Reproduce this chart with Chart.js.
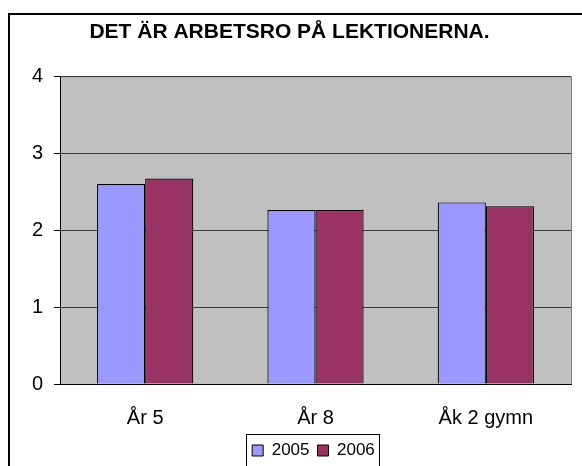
<!DOCTYPE html>
<html>
<head>
<meta charset="utf-8">
<script src="https://cdn.jsdelivr.net/npm/chart.js@4/dist/chart.umd.min.js"></script>
<style>
  body { margin: 0; background: #fff; }
  #wrap { width: 582px; height: 466px; position: relative; }
</style>
</head>
<body>
<div id="wrap"><canvas id="chart" width="582" height="466"></canvas></div>
<script>
  // data
  const categories = ['År 5', 'År 8', 'Åk 2 gymn'];
  const values2005 = [2.60, 2.26, 2.36];
  const values2006 = [2.67, 2.26, 2.31];
  const yTicks = [0, 1, 2, 3, 4];

  const FONT = 'Arial, "Liberation Sans", sans-serif';
  const LEGEND_SHIFT_X = 24;
  const LEGEND_SHIFT_Y = 3;

  // outer frame, grey plot area and the box round the legend
  const excelLook = {
    id: 'excelLook',
    afterLayout(chart) {
      // Excel put the legend a little right of centre
      const lg = chart.legend;
      lg.left += LEGEND_SHIFT_X;
      lg.right += LEGEND_SHIFT_X;
      lg.top += LEGEND_SHIFT_Y;
      lg.bottom += LEGEND_SHIFT_Y;
      (lg.legendHitBoxes || []).forEach(b => {
        b.left += LEGEND_SHIFT_X;
        b.top += LEGEND_SHIFT_Y;
      });
    },
    beforeDraw(chart) {
      const ctx = chart.ctx;
      const a = chart.chartArea;
      ctx.save();
      ctx.fillStyle = '#fff';
      ctx.fillRect(0, 0, chart.width, chart.height);
      ctx.fillStyle = '#c0c0c0';
      ctx.fillRect(a.left, a.top, a.right - a.left, a.bottom - a.top);
      ctx.strokeStyle = '#808080';
      ctx.lineWidth = 1;
      ctx.beginPath();
      ctx.moveTo(a.left, a.top + 0.5);
      ctx.lineTo(a.right + 0.5, a.top + 0.5);
      ctx.lineTo(a.right + 0.5, a.bottom);
      ctx.stroke();
      ctx.restore();
    },
    afterDraw(chart) {
      const ctx = chart.ctx;
      ctx.save();
      ctx.strokeStyle = '#000';
      ctx.lineWidth = 2;
      ctx.strokeRect(9, 14, chart.width + 10, chart.height + 10);
      const boxes = chart.legend.legendHitBoxes;
      if (boxes && boxes.length) {
        const left = boxes[0].left - 6;
        const right = boxes[boxes.length - 1].left + boxes[boxes.length - 1].width + 4;
        ctx.lineWidth = 1;
        ctx.strokeRect(Math.round(left) + 0.5, 434.5, Math.round(right - left), 40);
      }
      ctx.restore();
    }
  };

  const ctx = document.getElementById('chart').getContext('2d');
  const chart = new Chart(ctx, {
    type: 'bar',
    data: {
      labels: categories,
      datasets: [{
        label: '2005',
        data: values2005,
        backgroundColor: '#9999ff',
        borderColor: '#000',
        borderWidth: 1.2
      }, {
        label: '2006',
        data: values2006,
        backgroundColor: '#993366',
        borderColor: '#000',
        borderWidth: 1.2
      }]
    },
    options: {
      responsive: false,
      animation: false,
      layout: {
        padding: { left: 8, right: 11, top: 13, bottom: 0 }
      },
      datasets: {
        bar: { categoryPercentage: 0.565, barPercentage: 1 }
      },
      plugins: {
        title: {
          display: true,
          text: 'DET ÄR ARBETSRO PÅ LEKTIONERNA.',
          color: '#000',
          font: { family: FONT, size: 21, weight: 'bold' },
          padding: { top: 7, bottom: 31 }
        },
        legend: {
          position: 'bottom',
          labels: {
            color: '#000',
            boxWidth: 11,
            boxHeight: 11,
            padding: 8,
            font: { family: FONT, size: 17 },
            generateLabels(chart) {
              return chart.data.datasets.map((ds, i) => ({
                text: ds.label,
                fillStyle: ds.backgroundColor,
                strokeStyle: '#000',
                lineWidth: 1,
                fontColor: '#000',
                datasetIndex: i
              }));
            }
          }
        },
        tooltip: { enabled: false }
      },
      scales: {
        x: {
          grid: { display: false, drawTicks: false },
          border: { color: '#000', width: 1 },
          ticks: {
            color: '#000',
            padding: 22,
            font: { family: FONT, size: 20 }
          },
          afterFit(scale) { scale.height = 47; }
        },
        y: {
          min: 0,
          max: 4,
          afterBuildTicks(scale) {
            scale.ticks = yTicks.map(v => ({ value: v }));
          },
          grid: {
            color: '#3c3c3c',
            lineWidth: 1,
            tickLength: 6,
            tickColor: '#000'
          },
          border: { color: '#000', width: 1 },
          ticks: {
            color: '#000',
            padding: 11,
            font: { family: FONT, size: 20 }
          },
          afterFit(scale) { scale.width = 52; }
        }
      }
    },
    plugins: [excelLook]
  });
</script>
</body>
</html>
